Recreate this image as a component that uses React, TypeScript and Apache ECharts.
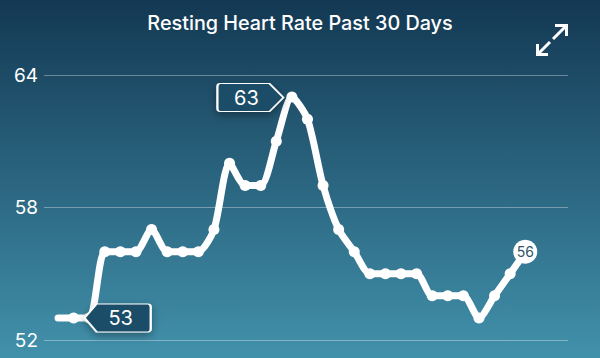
import React, { useEffect, useRef } from "react";
import * as echarts from "echarts";

const titleText = "Resting Heart Rate Past 30 Days";
const heartRates = [53, 53, 53, 56, 56, 56, 57, 56, 56, 56, 57, 60, 59, 59, 61, 63, 62, 59, 57, 56, 55, 55, 55, 55, 54, 54, 54, 53, 54, 55, 56];
const yTicks = [52, 58, 64];
const FONT = "Inter, 'Open Sans', sans-serif";

export default function App() {
  const ref = useRef<HTMLDivElement>(null);
  useEffect(() => {
    document.body.style.margin = "0";
    const chart = echarts.init(ref.current!, undefined, { renderer: "svg" });
    const peak = heartRates.indexOf(63);
    const last = heartRates.length - 1;
    const calloutStyle = {
      color: "#1f4d68",
      borderColor: "#ffffff",
      borderWidth: 1.5,
      shadowColor: "rgba(0,0,0,0.35)",
      shadowBlur: 8,
      shadowOffsetY: 3,
    };
    chart.setOption({
      animation: false,
      backgroundColor: {
        type: "linear", x: 0, y: 0, x2: 0, y2: 1,
        colorStops: [
          { offset: 0, color: "#133853" },
          { offset: 1, color: "#4291ab" },
        ],
      },
      title: {
        text: titleText,
        left: "center",
        top: 8,
        textStyle: { color: "#ffffff", fontSize: 19.8, fontWeight: 500, fontFamily: FONT },
      },
      grid: { left: 44, right: 32, top: 75, bottom: 18 },
      xAxis: {
        type: "value",
        min: -0.9,
        max: 32.71,
        show: false,
      },
      yAxis: {
        type: "value",
        min: yTicks[0],
        max: yTicks[2],
        interval: 6,
        axisLine: { show: false },
        axisTick: { show: false },
        axisLabel: { color: "#ffffff", fontSize: 19, fontFamily: FONT, margin: 6 },
        splitLine: { lineStyle: { color: "rgba(255,255,255,0.35)", width: 1 } },
      },
      graphic: [
        {
          type: "polyline",
          shape: { points: [[555, 25.5], [566.5, 25.5], [566.5, 36]] },
          style: { stroke: "#fff", lineWidth: 3, fill: "none" },
        },
        { type: "line", shape: { x1: 566, y1: 26, x2: 553, y2: 39 }, style: { stroke: "#fff", lineWidth: 3 } },
        {
          type: "polyline",
          shape: { points: [[537.5, 44], [537.5, 54.5], [548, 54.5]] },
          style: { stroke: "#fff", lineWidth: 3, fill: "none" },
        },
        { type: "line", shape: { x1: 538, y1: 54, x2: 550, y2: 42 }, style: { stroke: "#fff", lineWidth: 3 } },
      ],
      series: [
        {
          type: "line",
          data: heartRates.map((v, i) => ({
            value: [i, v],
            symbolSize: i === 0 ? 0 : 11,
          })),
          smooth: 0.25,
          symbol: "circle",
          showAllSymbol: true,
          lineStyle: { color: "#ffffff", width: 7, cap: "round", join: "round" },
          itemStyle: { color: "#ffffff", borderWidth: 0 },
          markPoint: {
            silent: true,
            data: [
              {
                coord: [peak, 63],
                symbol: "path://M3 0H52L66 14L52 28H3Q0 28 0 25V3Q0 0 3 0Z",
                symbolSize: [66, 28],
                symbolOffset: [-41.5, 0.5],
                itemStyle: calloutStyle,
                label: {
                  show: true, formatter: "63", position: "inside", offset: [-4, 0],
                  color: "#fff", fontSize: 20, fontFamily: FONT,
                },
              },
              {
                coord: [2, 53],
                symbol: "path://M12 0H63Q66 0 66 3V25Q66 28 63 28H12L0 14Z",
                symbolSize: [66, 28],
                symbolOffset: [28.5, 0],
                itemStyle: calloutStyle,
                label: {
                  show: true, formatter: "53", position: "inside", offset: [3, 0],
                  color: "#fff", fontSize: 20, fontFamily: FONT,
                },
              },
              {
                coord: [last, 56],
                symbol: "circle",
                symbolSize: 24,
                symbolOffset: [-0.5, 0],
                itemStyle: { color: "#ffffff" },
                label: {
                  show: true, formatter: "56", position: "inside",
                  color: "#2f5568", fontSize: 14, fontFamily: FONT,
                },
              },
            ],
          },
        },
      ],
    });
    return () => chart.dispose();
  }, []);
  return <div ref={ref} style={{ width: 600, height: 358 }} />;
}
